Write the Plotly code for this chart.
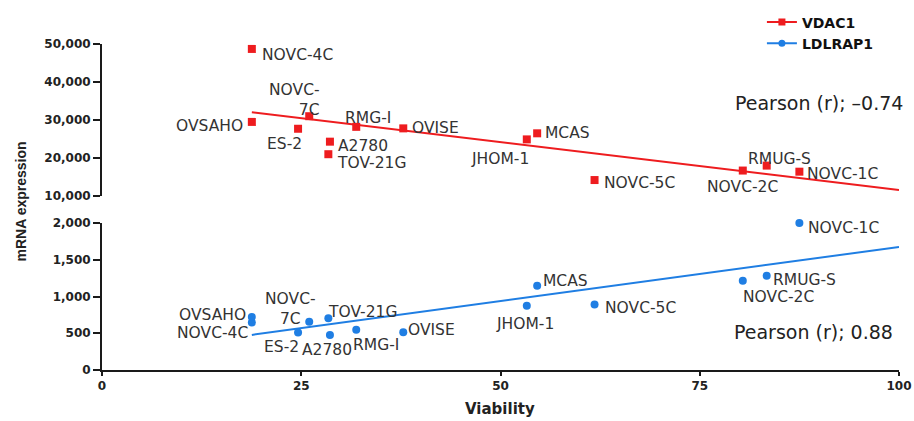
import numpy as np
import plotly.graph_objects as go

# ---------------- data ----------------
cell_lines = ["NOVC-4C", "OVSAHO", "ES-2", "NOVC-7C", "A2780", "TOV-21G", "RMG-I",
              "OVISE", "JHOM-1", "MCAS", "NOVC-5C", "NOVC-2C", "RMUG-S", "NOVC-1C"]
viability = [18.8, 18.8, 24.6, 26.0, 28.6, 28.4, 31.9,
             37.8, 53.3, 54.6, 61.8, 80.4, 83.4, 87.5]
vdac1 = [48700, 29500, 27700, 31000, 24300, 21000, 28200,
         27800, 24900, 26500, 14200, 16700, 18000, 16400]
ldlrap1 = [645, 720, 510, 655, 477, 705, 546,
           514, 873, 1146, 891, 1214, 1282, 2000]
pearson_vdac1 = "Pearson (r); \u20130.74"
pearson_ldlrap1 = "Pearson (r); 0.88"
x_ticks = [0, 25, 50, 75, 100]
y_top_ticks = [10000, 20000, 30000, 40000, 50000]
y_bot_ticks = [0, 500, 1000, 1500, 2000]

# ---------------- styles ----------------
RED = "#ee1c1f"
BLUE = "#1f7ee3"
AX = "#1a1a1a"
LBL_FONT = dict(family="DejaVu Sans", size=15.5, color="#333333")
TICK_FONT = dict(family="DejaVu Sans", size=12, color="#222222", weight="bold")
display_names = {"NOVC-7C": "NOVC-<br>7C"}

# label placement: (xanchor, yanchor, xshift, yshift)
top_place = {
    "NOVC-4C": ("left", "middle", 8, -6),
    "OVSAHO": ("right", "middle", -7, -4),
    "ES-2": ("center", "middle", -14, -15),
    "NOVC-7C": ("right", "bottom", 13, -5),
    "A2780": ("left", "middle", 6, -4),
    "TOV-21G": ("left", "middle", 7, -9),
    "RMG-I": ("left", "middle", -13, 9),
    "OVISE": ("left", "middle", 7, 0),
    "JHOM-1": ("center", "middle", -27, -20),
    "MCAS": ("left", "middle", 6, 0),
    "NOVC-5C": ("left", "middle", 7, -3),
    "NOVC-2C": ("center", "middle", 0, -16),
    "RMUG-S": ("center", "middle", 13, 7),
    "NOVC-1C": ("left", "middle", 6, -2),
}
bot_place = {
    "NOVC-4C": ("right", "middle", -2, -10),
    "OVSAHO": ("right", "middle", -4, 2),
    "ES-2": ("center", "middle", -17, -14),
    "NOVC-7C": ("center", "middle", -19, 13),
    "A2780": ("center", "middle", -3, -15),
    "TOV-21G": ("left", "middle", -2, 6),
    "RMG-I": ("left", "middle", -5, -15),
    "OVISE": ("left", "middle", 3, 2),
    "JHOM-1": ("center", "middle", -2, -18),
    "MCAS": ("left", "middle", 4, 5),
    "NOVC-5C": ("left", "middle", 8, -3),
    "NOVC-2C": ("left", "middle", -2, -16),
    "RMUG-S": ("left", "middle", 4, -4),
    "NOVC-1C": ("left", "middle", 7, -5),
}

fig = go.Figure()

x_arr = np.array(viability)
fit_x = np.array([x_arr.min(), 100.0])

# VDAC1 (top panel)
k1, b1 = np.polyfit(x_arr, np.array(vdac1), 1)
fig.add_trace(go.Scatter(x=fit_x, y=k1 * fit_x + b1, mode="lines", xaxis="x", yaxis="y2",
                         line=dict(color=RED, width=2), showlegend=False, hoverinfo="skip",
                         cliponaxis=False))
fig.add_trace(go.Scatter(x=viability, y=vdac1, mode="markers", xaxis="x", yaxis="y2",
                         marker=dict(symbol="square", size=8, color=RED), showlegend=False,
                         text=cell_lines, cliponaxis=False))
# LDLRAP1 (bottom panel)
k2, b2 = np.polyfit(x_arr, np.array(ldlrap1), 1)
fig.add_trace(go.Scatter(x=fit_x, y=k2 * fit_x + b2, mode="lines", xaxis="x", yaxis="y",
                         line=dict(color=BLUE, width=2), showlegend=False, hoverinfo="skip",
                         cliponaxis=False))
fig.add_trace(go.Scatter(x=viability, y=ldlrap1, mode="markers", xaxis="x", yaxis="y",
                         marker=dict(symbol="circle", size=8, color=BLUE), showlegend=False,
                         text=cell_lines, cliponaxis=False))

# legend entries
fig.add_trace(go.Scatter(x=[None], y=[None], mode="lines+markers", name="VDAC1",
                         line=dict(color=RED, width=2),
                         marker=dict(symbol="square", size=7, color=RED)))
fig.add_trace(go.Scatter(x=[None], y=[None], mode="lines+markers", name="LDLRAP1",
                         line=dict(color=BLUE, width=2),
                         marker=dict(symbol="circle", size=7, color=BLUE)))

annotations = []
for name, xv, yv in zip(cell_lines, viability, vdac1):
    xa, ya, dx, dy = top_place[name]
    annotations.append(dict(x=xv, y=yv, xref="x", yref="y2", text=display_names.get(name, name),
                            showarrow=False, xanchor=xa, yanchor=ya, xshift=dx, yshift=dy,
                            align="right" if name == "NOVC-7C" else "left", font=LBL_FONT))
for name, xv, yv in zip(cell_lines, viability, ldlrap1):
    xa, ya, dx, dy = bot_place[name]
    annotations.append(dict(x=xv, y=yv, xref="x", yref="y", text=display_names.get(name, name),
                            showarrow=False, xanchor=xa, yanchor=ya, xshift=dx, yshift=dy,
                            align="center", font=LBL_FONT))

annotations += [
    dict(x=1.0075, y=0.819, xref="paper", yref="paper", text=pearson_vdac1, showarrow=False,
         xanchor="right", yanchor="middle", font=dict(family="DejaVu Sans", size=19, color="#222")),
    dict(x=0.995, y=0.1175, xref="paper", yref="paper", text=pearson_ldlrap1, showarrow=False,
         xanchor="right", yanchor="middle", font=dict(family="DejaVu Sans", size=19, color="#222")),
    dict(x=-0.1016, y=0.517, xref="paper", yref="paper", text="mRNA expression", showarrow=False,
         textangle=-90, xanchor="center", yanchor="middle",
         font=dict(family="Liberation Sans", size=14, color="#222", weight="bold")),
    dict(x=0.4994, y=-0.1196, xref="paper", yref="paper", text="Viability", showarrow=False,
         xanchor="center", yanchor="middle",
         font=dict(family="DejaVu Sans", size=15, color="#222", weight="bold")),
]

axis_common = dict(showline=True, linecolor=AX, linewidth=2, ticks="outside", tickcolor=AX,
                   tickwidth=2, showgrid=False, zeroline=False, tickfont=TICK_FONT)

fig.update_layout(
    width=914, height=421,
    margin=dict(l=102, r=15, t=44, b=51, autoexpand=False),
    paper_bgcolor="white", plot_bgcolor="white",
    xaxis=dict(range=[0, 100], tickvals=x_ticks, ticklen=4, anchor="y", **axis_common),
    yaxis=dict(domain=[0, 0.4509], range=[0, 2000], tickvals=y_bot_ticks, tickformat=",d",
               ticklen=7, anchor="x", **axis_common),
    yaxis2=dict(domain=[0.5337, 1], range=[10000, 50000], tickvals=y_top_ticks, tickformat=",d",
                ticklen=7, anchor="x", **axis_common),
    legend=dict(x=0.828, y=1.115, xanchor="left", yanchor="top", bgcolor="rgba(0,0,0,0)",
                font=dict(family="DejaVu Sans", size=14, color="#111", weight="bold"),
                tracegroupgap=0),
    annotations=annotations,
    showlegend=True,
)

fig.write_html("out.html", config={"displayModeBar": False},
               post_script="document.body.style.margin='0px';document.body.style.overflow='hidden';")
